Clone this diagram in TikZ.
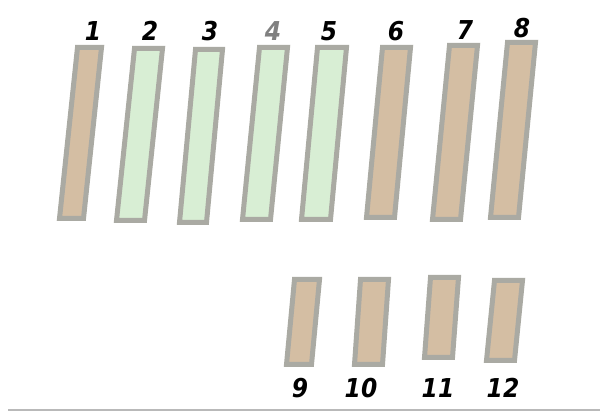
\documentclass[tikz,border=0pt]{standalone}
\usepackage{fontspec}
\newfontfamily\lblfont{DejaVu Sans Condensed}
\definecolor{tan}{RGB}{212,190,163}
\definecolor{greenish}{RGB}{216,238,212}
\definecolor{rim}{RGB}{170,170,163}
\definecolor{ruleline}{RGB}{185,185,185}
\tikzset{
  slabstyle/.style={draw=rim, line width=5, line join=miter},
  lbl/.style={font=\lblfont\bfseries\itshape\fontsize{26}{26}\selectfont, inner sep=0pt},
}
% \slab{name}{xtop}{ytop}{xbot}{ybot}{width}{fill}
\newcommand\slab[7]{%
  \draw[slabstyle, fill=#7] (#2+2.5,#3+2.5) -- (#2+#6-2.5,#3+2.5) -- (#4+#6-2.5,#5-2.5) -- (#4+2.5,#5-2.5) -- cycle;
  \coordinate (#1) at ({(#2+#4)/2+#6/2},{(#3+#5)/2});
}
\begin{document}
\begin{tikzpicture}[x=1pt,y=-1pt]
\useasboundingbox (0,0) rectangle (600,411);
\fill[white] (0,0) rectangle (600,411);
\slab{b1}{75}{45}{57}{221}{29}{tan}
\slab{b2}{132}{46}{114}{223}{33}{greenish}
\slab{b3}{193}{47}{177}{225}{32}{greenish}
\slab{b4}{257}{45}{240}{222}{33}{greenish}
\slab{b5}{315}{45}{299}{222}{34}{greenish}
\slab{b6}{380}{45}{364}{220}{33}{tan}
\slab{b7}{447}{43}{430}{222}{33}{tan}
\slab{b8}{505}{40}{488}{220}{33}{tan}
\slab{b9}{292}{277}{284}{367}{30}{tan}
\slab{b10}{358}{277}{352}{367}{33}{tan}
\slab{b11}{428}{275}{422}{360}{33}{tan}
\slab{b12}{492}{278}{484}{363}{33}{tan}
\node[lbl] (l1) at (93,31) {1};
\node[lbl] (l2) at (150,31) {2};
\node[lbl] (l3) at (210,31) {3};
\node[lbl, text=gray] (l4) at (273,31) {4};
\node[lbl] (l5) at (329,31) {5};
\node[lbl] (l6) at (396,31) {6};
\node[lbl] (l7) at (465,30) {7};
\node[lbl] (l8) at (522,28) {8};
\node[lbl] (l9) at (300,388) {9};
\node[lbl] (l10) at (361,388) {10};
\node[lbl] (l11) at (438,388) {11};
\node[lbl] (l12) at (503,388) {12};
\draw[ruleline, line width=1.5] (8,410) -- (600,410);
\end{tikzpicture}
\end{document}
